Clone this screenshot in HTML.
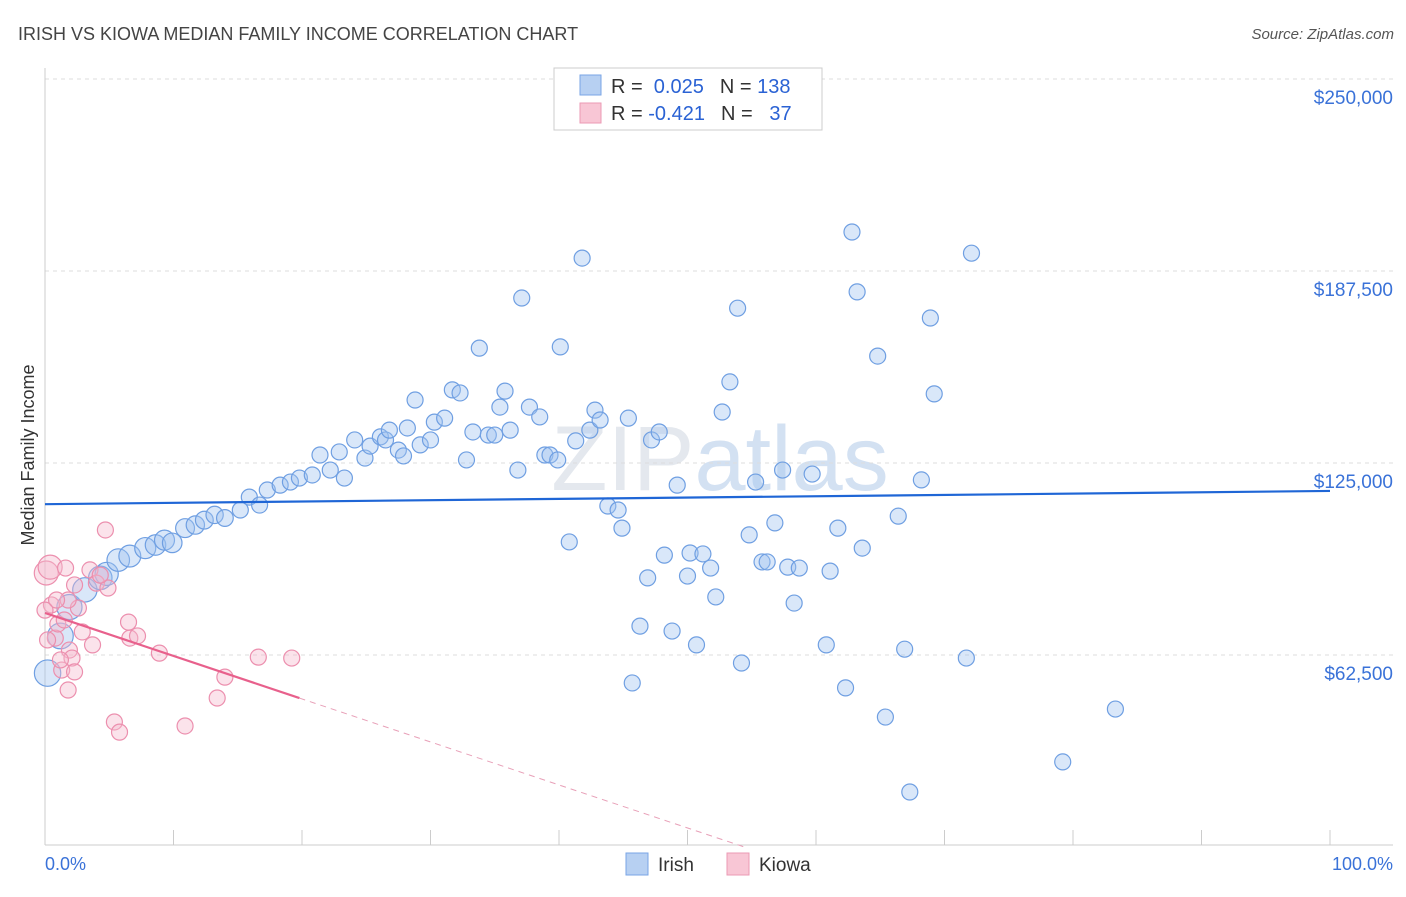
<!DOCTYPE html>
<html><head><meta charset="utf-8"><style>
body{margin:0;background:#fff;font-family:"Liberation Sans",sans-serif;}
svg text{font-family:"Liberation Sans",sans-serif;}
</style></head><body>
<svg id="chart" width="1406" height="892" xmlns="http://www.w3.org/2000/svg">
<text x="18" y="40" font-size="18" fill="#444">IRISH VS KIOWA MEDIAN FAMILY INCOME CORRELATION CHART</text>
<text x="1394" y="39" font-size="15" fill="#555" font-style="italic" text-anchor="end">Source: ZipAtlas.com</text>
<text x="720" y="490" font-size="92" fill="#e4e8ee" text-anchor="middle" font-family="Liberation Serif">ZIP<tspan font-family="Liberation Sans" fill="#d3e1f2">atlas</tspan></text>
<g id="grid"></g><g id="axes"></g><g id="marks"></g>
<text x="34" y="455" font-size="18" fill="#333" text-anchor="middle" transform="rotate(-90 34 455)">Median Family Income</text>
<text x="45" y="870" font-size="18" fill="#3a72d8">0.0%</text>
<text x="1393" y="870" font-size="18" fill="#3a72d8" text-anchor="end">100.0%</text>
<g>
<rect x="554" y="68" width="268" height="62" fill="#fff" stroke="#ccc"/>
<rect x="580" y="75" width="21" height="20" fill="#b7d0f2" stroke="#7aa5e6"/>
<rect x="580" y="103" width="21" height="20" fill="#f8c6d5" stroke="#eb9ab4"/>
<text x="611" y="93" font-size="20" fill="#333">R = <tspan fill="#2a62d4">&#160;0.025</tspan><tspan dx="16">N = </tspan><tspan fill="#2a62d4">138</tspan></text>
<text x="611" y="120" font-size="20" fill="#333">R = <tspan fill="#2a62d4">-0.421</tspan><tspan dx="16">N = </tspan><tspan fill="#2a62d4">&#160;&#160;37</tspan></text>
</g>
<g><rect x="626" y="853" width="22" height="22" fill="#b7d0f2" stroke="#7aa5e6"/><text x="658" y="871" font-size="19" fill="#333">Irish</text></g>
<g><rect x="727" y="853" width="22" height="22" fill="#f8c6d5" stroke="#eb9ab4"/><text x="759" y="871" font-size="19" fill="#333">Kiowa</text></g>
</svg>
<script>
const yTicks=[62.5,125,187.5,250];
const yTickLabels=["$62,500","$125,000","$187,500","$250,000"];
const xTicks=[0,10,20,30,40,50,60,70,80,90,100];
const irishX=[0.2,1.2,1.9,3.1,4.3,4.8,5.7,6.6,7.8,8.6,9.3,9.9,10.9,11.7,12.4,13.2,14.0,15.2,15.9,16.7,17.3,18.3,19.1,19.8,20.8,21.4,22.2,22.9,23.3,24.1,24.9,25.3,26.1,26.5,26.8,27.5,27.9,28.2,28.8,29.2,30.0,30.3,31.1,31.7,32.3,32.8,33.3,33.8,34.5,35.0,35.4,35.8,36.2,36.8,37.1,37.7,38.5,38.9,39.3,39.9,40.1,40.8,41.3,41.8,42.4,42.8,43.2,43.8,44.6,44.9,45.4,45.7,46.3,46.9,47.2,47.8,48.2,48.8,49.2,50.0,50.2,50.7,51.2,51.8,52.2,52.7,53.3,53.9,54.2,54.8,55.3,55.8,56.2,56.8,57.4,57.8,58.3,58.7,59.7,60.8,61.1,61.7,62.3,62.8,63.2,63.6,64.8,65.4,66.4,66.9,67.3,68.2,68.9,69.2,71.7,72.1,79.2,83.3];
const irishY=[56.6,68.7,78.1,83.7,87.6,88.9,93.4,94.7,97.3,98.3,99.9,99.0,103.8,104.8,106.4,108.1,107.1,109.7,113.9,111.3,116.2,117.8,118.8,120.1,121.1,127.6,122.7,128.6,120.1,132.5,126.6,130.5,133.5,132.5,135.7,129.2,127.3,136.4,145.5,130.9,132.5,138.3,139.6,148.8,147.8,126.0,135.1,162.4,134.1,134.1,143.2,148.4,135.7,122.7,178.7,143.2,140.0,127.6,127.6,126.0,162.8,99.3,132.2,191.7,135.7,142.2,139.0,111.0,109.7,103.8,139.6,53.4,71.9,87.6,132.5,135.1,95.0,70.3,117.8,88.2,95.7,65.8,95.4,90.8,81.4,141.6,151.4,175.4,59.9,101.6,118.8,92.8,92.8,105.5,122.7,91.1,79.4,90.8,121.4,65.8,89.8,103.8,51.8,200.2,180.7,97.3,159.8,42.3,107.7,64.4,17.9,119.5,172.2,147.5,61.5,193.3,27.7,44.9];
const kiowaX=[0.1,0.4,0.5,0.8,1.0,1.3,1.6,1.8,1.9,2.1,2.3,2.6,2.9,3.5,3.7,4.0,4.7,4.9,5.4,5.8,6.5,6.6,7.2,8.9,10.9,13.4,14.0,16.6,19.2,1.8,0.9,0.2,1.2,4.3,2.3,1.5,0.0];
const kiowaY=[89.2,91.1,78.8,68.0,72.6,57.6,90.8,51.1,64.1,61.5,57.0,77.8,70.0,90.2,65.8,85.9,103.2,84.3,40.7,37.4,73.2,68.0,68.7,63.1,39.4,48.5,55.3,61.8,61.5,80.4,80.4,67.4,60.9,88.5,85.3,73.9,77.1];
const irishTrend=[111.6,115.9];
const kiowaTrend=[76.2,-1.40];
const NS="http://www.w3.org/2000/svg";
const xs=v=>45+v*12.85, ys=v=>847-v*3.072;
function mk(tag,attrs,parent){const e=document.createElementNS(NS,tag);for(const k in attrs)e.setAttribute(k,attrs[k]);document.getElementById(parent).appendChild(e);return e;}
yTicks.forEach((t,i)=>{
  const g=mk('line',{x1:45,x2:1393,y1:ys(t),y2:ys(t),stroke:'#ddd','stroke-dasharray':'4 4'},'grid');
  
  
  const tx=mk('text',{x:1393,y:ys(t)+25,'font-size':19,fill:'#3a72d8','text-anchor':'end'},'grid');
  tx.textContent=yTickLabels[i];
  
  
});
const al=mk('line',{x1:45,x2:45,y1:68,y2:845,stroke:'#ccc'},'axes');


const bl=mk('line',{x1:45,x2:1393,y1:845,y2:845,stroke:'#ccc'},'axes');


xTicks.forEach(t=>{
  const l=mk('line',{x1:xs(t),x2:xs(t),y1:830,y2:845,stroke:'#ccc'},'axes');
  
  
});
irishX.forEach((x,i)=>{
  const r=8+Math.max(0,15-x)*0.35;
  const c=mk('circle',{cx:xs(x),cy:ys(irishY[i]),r:r,fill:'rgba(160,195,240,0.4)',stroke:'#6f9fe2','stroke-width':1.2},'marks');
  
  
});
kiowaX.forEach((x,i)=>{
  const r=i<2?12:8;
  const c=mk('circle',{cx:xs(x),cy:ys(kiowaY[i]),r:r,fill:'rgba(246,185,205,0.4)',stroke:'#ec8fae','stroke-width':1.2},'marks');
  
  
});
const it=mk('line',{x1:xs(0),y1:ys(irishTrend[0]),x2:xs(100),y2:ys(irishTrend[1]),stroke:'#1f66d6','stroke-width':2.2},'marks');


const kEnd=19.8, kZero=-kiowaTrend[0]/kiowaTrend[1];
const kt=mk('line',{x1:xs(0),y1:ys(kiowaTrend[0]),x2:xs(kEnd),y2:ys(kiowaTrend[0]+kiowaTrend[1]*kEnd),stroke:'#e8608c','stroke-width':2.2},'marks');


const kd=mk('line',{x1:xs(kEnd),y1:ys(kiowaTrend[0]+kiowaTrend[1]*kEnd),x2:xs(kZero),y2:ys(0),stroke:'#e8a0b8','stroke-width':1,'stroke-dasharray':'6 5'},'marks');


</script>
</body></html>
